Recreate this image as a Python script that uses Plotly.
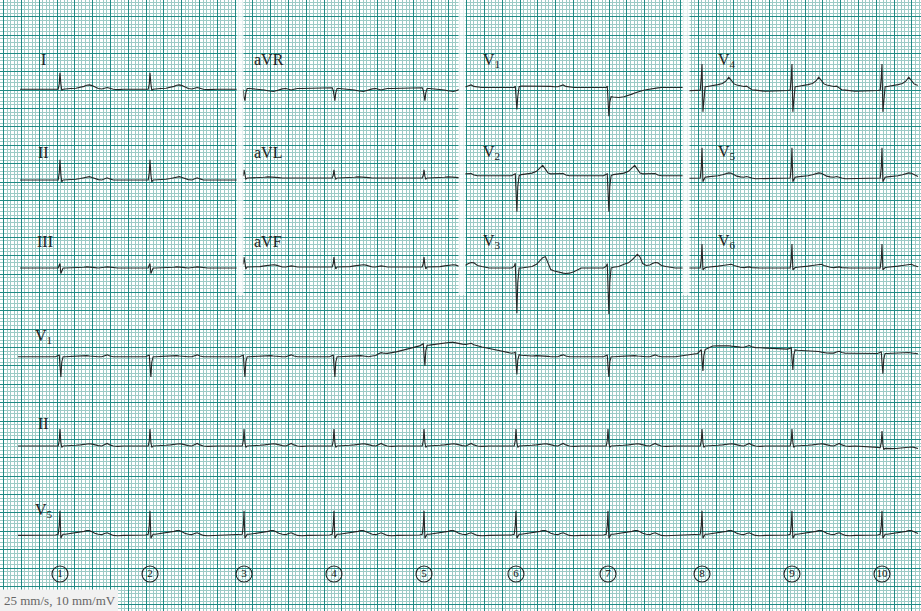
import numpy as np
import plotly.graph_objects as go

# ---------------- data ----------------
# R-peak times (s) of the ten beats, numbered 1..10 at the bottom
BEAT_TIMES = [0.633, 1.644, 2.700, 3.710, 4.721, 5.754, 6.787, 7.843, 8.853, 9.864]
BEAT_LABELS = ["1", "2", "3", "4", "5", "6", "7", "8", "9", "10"]

# beat template time points (s, relative to R peak)
TMPL_DT = [-0.30, -0.05, -0.02, -0.008, 0.0, 0.01, 0.02, 0.035, 0.06, 0.12, 0.18, 0.23,
           0.27, 0.30, 0.33, 0.36, 0.39, 0.43, 0.47, 0.50, 0.53, 0.56, 0.60, 0.65]

# amplitudes (mV) at the template time points, per lead
AMP_I = [0, 0, 0, 0.15, 0.45, 0.15, -0.03, 0.0, 0.01, 0.02, 0.03, 0.05,
         0.08, 0.11, 0.12, 0.10, 0.06, 0.02, 0.01, 0.03, 0.05, 0.03, 0.0, -0.01]
AMP_II = [0, 0, 0, 0.2, 0.55, 0.15, -0.05, 0.0, 0.0, 0.01, 0.02, 0.04,
          0.06, 0.08, 0.09, 0.07, 0.04, 0.01, 0.0, 0.04, 0.06, 0.03, 0.0, 0.0]
AMP_III = [0, 0, 0, 0.08, 0.12, -0.15, -0.08, 0.0, 0.0, 0.0, 0.0, 0.01,
           0.02, 0.03, 0.03, 0.02, 0.01, 0.0, 0.0, 0.02, 0.03, 0.02, 0.0, 0.0]
AMP_AVR = [0, 0, 0.02, -0.05, -0.25, -0.33, -0.12, 0.0, 0.0, -0.01, -0.02, -0.04,
           -0.06, -0.08, -0.08, -0.06, -0.03, -0.01, 0.0, -0.03, -0.04, -0.02, 0.0, 0.0]
AMP_AVL = [0, 0, 0, 0.08, 0.22, 0.05, -0.03, 0.0, 0.0, 0.0, 0.01, 0.02,
           0.03, 0.03, 0.03, 0.02, 0.01, 0.0, 0.0, 0.01, 0.02, 0.01, 0.0, 0.0]
AMP_AVF = [0, 0, 0, 0.1, 0.27, 0.05, -0.05, 0.0, 0.0, 0.0, 0.01, 0.03,
           0.05, 0.06, 0.06, 0.05, 0.02, 0.0, 0.0, 0.02, 0.03, 0.02, 0.0, 0.0]
AMP_V1 = [0, 0, 0, 0.04, -0.2, -0.6, -0.25, 0.02, 0.04, 0.04, 0.04, 0.05,
          0.05, 0.05, 0.05, 0.04, 0.03, 0.02, 0.02, 0.05, 0.07, 0.03, 0.01, 0.0]
AMP_V1_BEAT7 = [0, 0, 0, 0.04, -0.25, -0.78, -0.4, -0.25, -0.26, -0.27, -0.25, -0.22,
                -0.18, -0.15, -0.12, -0.10, -0.08, -0.06, -0.04, -0.03, -0.02, -0.01, 0.0, 0.0]
AMP_V2 = [0, 0, 0.04, 0.05, -0.4, -0.98, -0.3, 0.0, 0.03, 0.05, 0.07, 0.12,
          0.22, 0.28, 0.18, 0.07, 0.05, 0.05, 0.05, 0.07, 0.06, 0.02, 0.0, 0.0]
AMP_V3 = [0, 0, 0.05, 0.12, -0.5, -1.25, -0.4, 0.0, 0.02, 0.04, 0.1, 0.14,
          0.22, 0.30, 0.37, 0.30, 0.12, 0.07, 0.08, 0.12, 0.15, 0.14, 0.07, 0.04]
AMP_V3_BEAT6 = [0, 0, 0.05, 0.13, -0.5, -1.23, -0.4, 0.0, 0.0, 0.02, 0.04, 0.1,
                0.2, 0.28, 0.31, 0.12, -0.04, -0.08, -0.11, -0.13, -0.14, -0.15, -0.14, -0.1]
AMP_V4 = [-0.08, -0.06, -0.05, 0.3, 0.66, -0.64, -0.3, 0.04, 0.05, 0.07, 0.10, 0.13,
          0.20, 0.30, 0.22, 0.12, 0.09, 0.07, 0.05, 0.06, 0.02, -0.04, -0.05, -0.06]
AMP_V5 = [-0.02, 0, 0, 0.3, 0.82, -0.1, -0.05, 0.02, 0.03, 0.04, 0.06, 0.09,
          0.12, 0.14, 0.13, 0.09, 0.05, 0.03, 0.02, 0.04, 0.03, 0.0, -0.02, -0.02]
AMP_V6 = [0, 0, 0, 0.25, 0.65, -0.05, -0.03, 0.01, 0.02, 0.03, 0.05, 0.07,
          0.09, 0.10, 0.10, 0.07, 0.04, 0.02, 0.01, 0.03, 0.03, 0.01, 0, 0]
AMP_RHY_V1 = [0, 0, 0.03, 0.05, -0.25, -0.55, -0.15, 0.0, 0.0, 0.01, 0.02, 0.03,
              0.03, 0.03, 0.02, 0.01, 0.0, 0.0, 0.0, 0.03, 0.05, 0.02, 0.0, 0.0]
AMP_RHY_II = [0, 0, 0, 0.15, 0.46, 0.1, -0.04, 0.0, 0.0, 0.01, 0.02, 0.03,
              0.05, 0.06, 0.06, 0.05, 0.03, 0.01, 0.0, 0.04, 0.07, 0.03, 0.0, -0.01]
AMP_RHY_V5 = [-0.03, -0.02, 0, 0.25, 0.64, -0.11, -0.05, 0.0, 0.0, 0.02, 0.03, 0.05,
              0.08, 0.10, 0.10, 0.07, 0.03, 0.0, -0.01, 0.02, 0.04, 0.01, -0.03, -0.04]

# baseline wander of the rhythm strips (s, mV)
WANDER_V1_T = [0.0, 4.10, 4.45, 4.65, 5.05, 5.30, 5.65, 5.90, 7.72, 7.95, 8.30, 8.75, 9.20, 10.3]
WANDER_V1_MV = [0.0, 0.0, 0.15, 0.29, 0.37, 0.30, 0.12, 0.0, 0.0, 0.28, 0.26, 0.22, 0.10, 0.08]
WANDER_II_T = [0.0, 9.70, 9.95, 10.3]
WANDER_II_MV = [0.0, 0.0, -0.08, -0.09]

# ---------------- layout constants ----------------
W, H = 921, 611
PX_PER_S = 89.05
PX_PER_MV = 36.76
X0_PX = 3.6        # pixel of t = 0
Y0_PX = 16.7       # pixel of a major line at value 0
X_RANGE = [-X0_PX / PX_PER_S, (W - X0_PX) / PX_PER_S]
Y_TOP = Y0_PX / PX_PER_MV
Y_RANGE = [Y_TOP - H / PX_PER_MV, Y_TOP]


def py(p):
    return Y_TOP - p / PX_PER_MV


def px_t(p):
    return (p - X0_PX) / PX_PER_S


COLS = [(px_t(20), px_t(237)), (px_t(243), px_t(459)), (px_t(465), px_t(683)), (px_t(689), px_t(918))]
RHY = (px_t(18), px_t(918))

# lead: (amps, overrides, window, baseline pixel, wander)
LEADS = [
    ("I", AMP_I, {}, COLS[0], 89.3, None),
    ("II", AMP_II, {}, COLS[0], 180.0, None),
    ("III", AMP_III, {}, COLS[0], 268.0, None),
    ("aVR", AMP_AVR, {}, COLS[1], 88.5, None),
    ("aVL", AMP_AVL, {}, COLS[1], 178.0, None),
    ("aVF", AMP_AVF, {}, COLS[1], 267.0, None),
    ("V1", AMP_V1, {6: AMP_V1_BEAT7}, COLS[2], 87.5, None),
    ("V2", AMP_V2, {}, COLS[2], 175.7, None),
    ("V3", AMP_V3, {5: AMP_V3_BEAT6}, COLS[2], 268.0, None),
    ("V4", AMP_V4, {}, COLS[3], 88.3, None),
    ("V5", AMP_V5, {}, COLS[3], 178.0, None),
    ("V6", AMP_V6, {}, COLS[3], 268.0, None),
    ("V1 rhythm", AMP_RHY_V1, {}, RHY, 356.7, (WANDER_V1_T, WANDER_V1_MV)),
    ("II rhythm", AMP_RHY_II, {}, RHY, 446.0, (WANDER_II_T, WANDER_II_MV)),
    ("V5 rhythm", AMP_RHY_V5, {}, RHY, 534.3, None),
]


def build(amps, overrides, window, base_px, wander):
    ts, vs = [], []
    for k, tb in enumerate(BEAT_TIMES):
        a = overrides.get(k, amps)
        for d, v in zip(TMPL_DT, a):
            ts.append(tb + d)
            vs.append(v)
    ts = np.array(ts)
    vs = np.array(vs)
    w0, w1 = window
    v0 = np.interp(w0, ts, vs)
    v1 = np.interp(w1, ts, vs)
    m = (ts > w0) & (ts < w1)
    ts = np.concatenate([[w0], ts[m], [w1]])
    vs = np.concatenate([[v0], vs[m], [v1]])
    if wander is not None:
        vs = vs + np.interp(ts, wander[0], wander[1])
    return ts, vs + py(base_px)


fig = go.Figure()
for name, amps, ov, win, base, wan in LEADS:
    x, y = build(amps, ov, win, base, wan)
    fig.add_trace(go.Scatter(x=x, y=y, mode="lines", name=name,
                             line=dict(color="#262626", width=1.1), showlegend=False,
                             hoverinfo="skip"))

# numbered beat markers
fig.add_trace(go.Scatter(
    x=BEAT_TIMES, y=[py(574)] * len(BEAT_TIMES), mode="markers+text",
    text=BEAT_LABELS, textposition="middle center",
    textfont=dict(family="Liberation Serif", size=11, color="#111"),
    marker=dict(symbol="circle-open", size=16, color="#222", line=dict(width=1.1)),
    showlegend=False, hoverinfo="skip"))

# separators between the 12-lead columns
shapes = []
for a, b in [(236.5, 243.5), (458.5, 465.5), (682.5, 689.5)]:
    shapes.append(dict(type="rect", xref="x", yref="paper", x0=px_t(a), x1=px_t(b),
                       y0=1 - 295 / H, y1=1, fillcolor="white", opacity=0.75,
                       line=dict(width=0), layer="above"))
shapes.append(dict(type="rect", xref="paper", yref="paper", x0=0, x1=118 / W,
                   y0=0, y1=(H - 589.5) / H, fillcolor="#f1f1f1", line=dict(width=0),
                   layer="above"))

annotations = []
labels = [
    ("I", 39, 60), ("aVR", 252, 60), ("V<sub>1</sub>", 481, 61), ("V<sub>4</sub>", 716, 61),
    ("II", 36, 152), ("aVL", 252, 152), ("V<sub>2</sub>", 481, 152), ("V<sub>5</sub>", 716, 152),
    ("III", 35, 241), ("aVF", 252, 241), ("V<sub>3</sub>", 481, 241), ("V<sub>6</sub>", 716, 241),
    ("V<sub>1</sub>", 33, 336), ("II", 36, 423), ("V<sub>5</sub>", 33, 510),
]
for txt, lx, ly in labels:
    annotations.append(dict(text=txt, x=lx / W, y=1 - ly / H, xref="paper", yref="paper",
                            xanchor="left", yanchor="middle", showarrow=False,
                            font=dict(family="Liberation Serif", size=16, color="#222")))
annotations.append(dict(text="25 mm/s, 10 mm/mV", x=2 / W, y=1 - 600 / H, xref="paper",
                        yref="paper", xanchor="left", yanchor="middle", showarrow=False,
                        font=dict(family="Liberation Serif", size=13, color="#666")))

MAJOR = "#1f8a84"
MINOR = "#9ccbc6"
fig.update_layout(
    width=W, height=H, margin=dict(l=0, r=0, t=0, b=0),
    paper_bgcolor="white", plot_bgcolor="white",
    xaxis=dict(range=X_RANGE, tick0=0, dtick=0.2, showgrid=True, gridcolor=MAJOR, gridwidth=1,
               zeroline=False, showticklabels=False, ticks="", showline=False, fixedrange=True,
               minor=dict(dtick=0.04, tick0=0, showgrid=True, gridcolor=MINOR, gridwidth=1)),
    yaxis=dict(range=Y_RANGE, tick0=0, dtick=0.5, showgrid=True, gridcolor=MAJOR, gridwidth=1,
               zeroline=False, showticklabels=False, ticks="", showline=False, fixedrange=True,
               minor=dict(dtick=0.1, tick0=0, showgrid=True, gridcolor=MINOR, gridwidth=1)),
    shapes=shapes, annotations=annotations,
)

fig.write_html("out.html", config={"displayModeBar": False},
               post_script="document.body.style.margin='0px';")
